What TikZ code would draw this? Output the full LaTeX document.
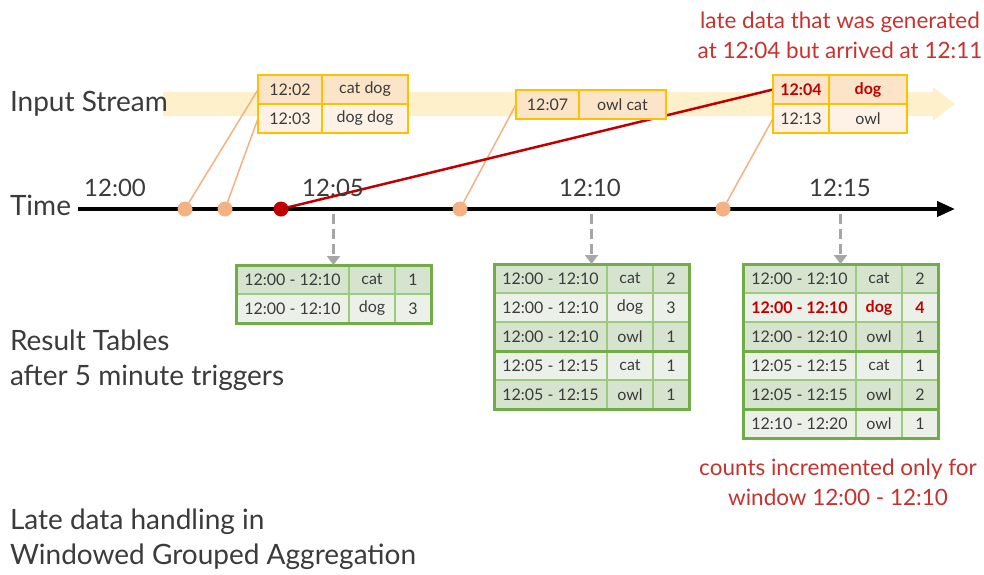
\documentclass[tikz,border=0pt]{standalone}
\usepackage{fontspec}
\setmainfont{Lato}
\usetikzlibrary{arrows.meta,positioning,fit,backgrounds}
\definecolor{ink}{HTML}{3B3B3B}
\definecolor{latered}{HTML}{C00000}
\definecolor{notered}{HTML}{C8322E}
\definecolor{streambg}{HTML}{FFF0CC}
\definecolor{gold}{HTML}{FFC000}
\definecolor{peach}{HTML}{FCE4C8}
\definecolor{peachlt}{HTML}{FEF2E6}
\definecolor{dotpeach}{HTML}{F4B183}
\definecolor{leaf}{HTML}{70AD47}
\definecolor{leaflt}{HTML}{9CCB7E}
\definecolor{sage}{HTML}{D5E3CF}
\definecolor{sagelt}{HTML}{EBF1E8}
\definecolor{tickgray}{HTML}{A6A6A6}
\newcommand{\cellfont}{\fontsize{16}{19}\selectfont}
\tikzset{
  every node/.style={text=ink,inner sep=0pt,outer sep=0pt},
  biglbl/.style={font=\fontsize{28}{35}\selectfont,anchor=west,align=left},
  timelbl/.style={font=\fontsize{24}{28}\selectfont},
  rednote/.style={text=notered,font=\fontsize{22.5}{30}\selectfont,align=center},
  inrow/.style={draw=gold,line width=1.8pt,fill=peach,minimum height=29pt,font=\cellfont},
  inrowlt/.style={inrow,fill=peachlt},
  rescell/.style={draw=leaflt,line width=1.5pt,minimum height=29pt,font=\cellfont},
  rowdk/.style={fill=sage},
  rowlt/.style={fill=sagelt},
  rowhot/.style={fill=sagelt,text=latered,font=\cellfont\bfseries},
  resframe/.style={draw=leaf,line width=3pt,inner sep=0pt},
  evdot/.style={circle,fill=dotpeach,minimum size=15pt},
  latedot/.style={evdot,fill=latered},
  evlink/.style={draw=dotpeach,line width=1.5pt},
  latelink/.style={draw=latered,line width=2.5pt},
  timeline/.style={-{Triangle[length=18pt,width=15pt]},line width=4pt,draw=black},
  trig/.style={-{Triangle[length=9pt,width=13pt]},draw=tickgray,line width=2.5pt,dash pattern=on 10pt off 5pt}
}
\begin{document}
\begin{tikzpicture}[x=1pt,y=-1pt,node distance=0pt]
  \useasboundingbox (0,0) rectangle (984,574);
  \coordinate (axstart) at (78,209);
  \coordinate (axend) at (955,209);

  \begin{pgfonlayer}{background}
    \fill[streambg] (163,92) -- (933,92) -- (933,87) -- (955,104) -- (933,121) -- (933,116) -- (163,116) -- cycle;
    \draw[timeline] (axstart) -- (axend);
  \end{pgfonlayer}

  % left captions
  \node[biglbl] (instream) at (10,104) {Input Stream};
  \node[biglbl] (timecap) at (10,205) {Time};
  \node[biglbl] (rescap) at (10,360) {Result Tables\\after 5 minute triggers};
  \node[biglbl] (title) at (10,539) {Late data handling in\\Windowed Grouped Aggregation};

  % time marks
  \node[timelbl] (l00) at (115,188) {12:00};
  \node[timelbl] (l05) at (333,188) {12:05};
  \node[timelbl] (l10) at (590,188) {12:10};
  \node[timelbl] (l15) at (840,188) {12:15};

  % events on the stream
  \node[inrow,minimum width=64pt] (s1a) at (290,89.5) {12:02};
  \node[inrow,minimum width=86pt,right=of s1a] (s1b) {cat dog};
  \node[inrowlt,minimum width=64pt,below=of s1a] (s2a) {12:03};
  \node[inrowlt,minimum width=86pt,right=of s2a] (s2b) {dog dog};
  \node[inrow,minimum width=63pt] (s3a) at (547.5,104.5) {12:07};
  \node[inrow,minimum width=87pt,right=of s3a] (s3b) {owl cat};
  \node[inrow,minimum width=56pt,text=latered,font=\cellfont\bfseries] (s4a) at (801,89.5) {12:04};
  \node[inrow,minimum width=78pt,text=latered,font=\cellfont\bfseries,right=of s4a] (s4b) {dog};
  \node[inrowlt,minimum width=56pt,below=of s4a] (s5a) {12:13};
  \node[inrowlt,minimum width=78pt,right=of s5a] (s5b) {owl};

  \node[rednote] (latenote) at (840,35) {late data that was generated\\at 12:04 but arrived at 12:11};

  % event times on the axis
  \node[evdot] (e1) at (185,209) {};
  \node[evdot] (e2) at (225,209) {};
  \node[latedot] (e3) at (281,209) {};
  \node[evdot] (e4) at (460,209) {};
  \node[evdot] (e5) at (723,209) {};

  % result tables
  \foreach \win/\key/\cnt/\sty [count=\r] in {12:00 - 12:10/cat/1/rowdk,12:00 - 12:10/dog/3/rowlt}{
    \node[rescell,\sty,minimum width=113pt] (a\r-w) at (292.5,250.5+29*\r) {\win};
    \node[rescell,\sty,minimum width=46pt,right=of a\r-w] (a\r-k) {\key};
    \node[rescell,\sty,minimum width=36pt,right=of a\r-k] (a\r-c) {\cnt};
  }
  \foreach \win/\key/\cnt/\sty [count=\r] in {12:00 - 12:10/cat/2/rowdk,12:00 - 12:10/dog/3/rowlt,12:00 - 12:10/owl/1/rowdk,
      12:05 - 12:15/cat/1/rowlt,12:05 - 12:15/owl/1/rowdk}{
    \node[rescell,\sty,minimum width=113pt] (b\r-w) at (550.5,249.5+29*\r) {\win};
    \node[rescell,\sty,minimum width=46pt,right=of b\r-w] (b\r-k) {\key};
    \node[rescell,\sty,minimum width=36pt,right=of b\r-k] (b\r-c) {\cnt};
  }
  \foreach \win/\key/\cnt/\sty [count=\r] in {12:00 - 12:10/cat/2/rowdk,12:00 - 12:10/dog/4/rowhot,12:00 - 12:10/owl/1/rowdk,
      12:05 - 12:15/cat/1/rowlt,12:05 - 12:15/owl/2/rowdk,12:10 - 12:20/owl/1/rowlt}{
    \node[rescell,\sty,minimum width=113pt] (c\r-w) at (799.5,249.5+29*\r) {\win};
    \node[rescell,\sty,minimum width=46pt,right=of c\r-w] (c\r-k) {\key};
    \node[rescell,\sty,minimum width=36pt,right=of c\r-k] (c\r-c) {\cnt};
  }
  \node[resframe,fit=(a1-w)(a2-c)] (resA) {};
  \node[resframe,fit=(b1-w)(b3-c)] (resB) {};
  \node[resframe,fit=(b4-w)(b5-c)] (resB2) {};
  \node[resframe,fit=(c1-w)(c3-c)] (resC) {};
  \node[resframe,fit=(c4-w)(c5-c)] (resC2) {};
  \node[resframe,fit=(c6-w)(c6-c)] (resC3) {};

  \node[rednote] (countnote) at (838,482) {counts incremented only for\\window 12:00 - 12:10};

  % triggers
  \coordinate (t05) at (333.5,214);
  \coordinate (t10) at (591.5,214);
  \coordinate (t15) at (840.5,214);
  \draw[trig] (t05) -- (resA.north);
  \draw[trig] (t10) -- (resB.north);
  \draw[trig] (t15) -- (resC.north);

  \begin{pgfonlayer}{background}
    \draw[evlink] (e1) -- (s1a.west);
    \draw[evlink] (e2) -- (s2a.west);
    \draw[evlink] (e4) -- (s3a.west);
    \draw[evlink] (e5) -- (s5a.west);
    \draw[latelink] (e3.center) -- (s4a.west);
  \end{pgfonlayer}
\end{tikzpicture}
\end{document}
